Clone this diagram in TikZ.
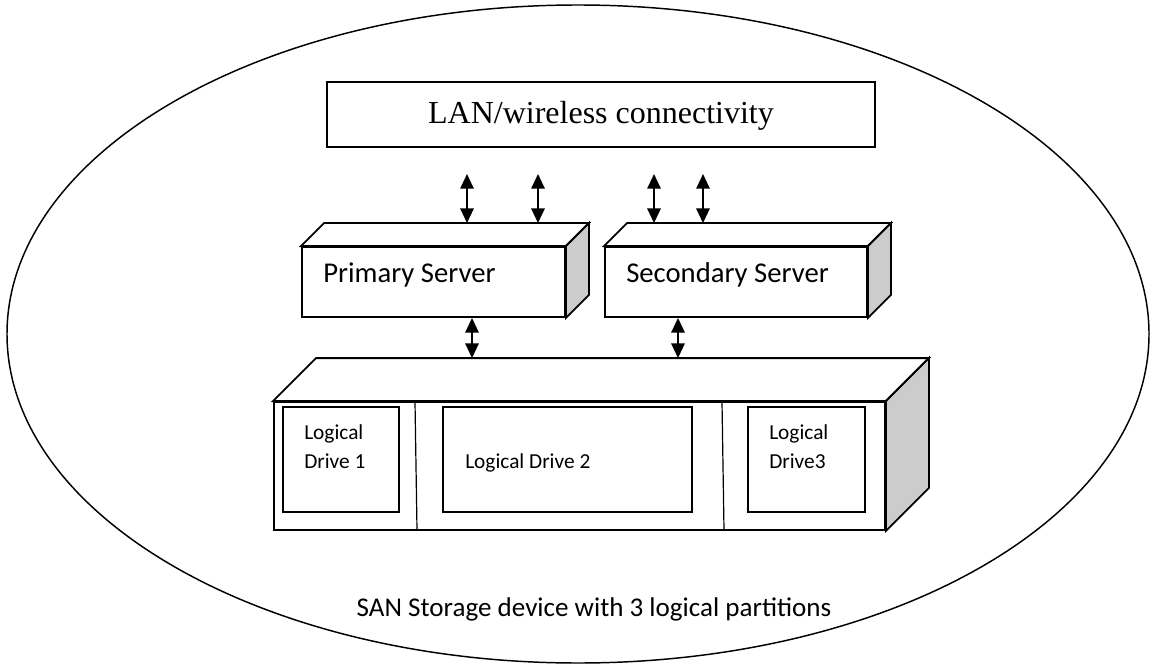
\documentclass[tikz,border=0pt]{standalone}
\usepackage{fontspec}
\setmainfont{Liberation Serif}
\setsansfont{Carlito}
\usepackage{tikz}
\usetikzlibrary{arrows.meta, positioning, fit, calc}
\definecolor{ladogris}{RGB}{204,204,204}
\tikzset{
  cara/.style={draw, line width=1.4pt, fill=white, inner sep=0pt},
  lado/.style={draw, line width=1.4pt, fill=ladogris},
  enlace/.style={{Triangle[width=10pt,length=11pt]}-{Triangle[width=10pt,length=11pt]}, line width=1.5pt},
  servtxt/.style={font=\sffamily\fontsize{21.5}{26}\selectfont, inner sep=0pt, anchor=base west},
  drvtxt/.style={font=\sffamily\fontsize{16}{21.75}\selectfont, inner sep=0pt, align=left, anchor=north west},
}
% caja 3D: nombre, esquina sup. izq., esquina inf. der., profundidad
\newcommand{\cubo}[4]{%
  \node[cara, fit={#2 #3}] (#1) {};
  \draw[cara] (#1.north west) -- ++(#4,-#4) -- ($(#1.north east)+(#4,-#4)$) -- (#1.north east) -- cycle;
  \draw[lado] (#1.north east) -- ++(#4,-#4) -- ($(#1.south east)+(#4,-#4)$) -- (#1.south east) -- cycle;
  \coordinate (#1-tapa) at ($(#1.north)+(#4,-#4)$);
}

\begin{document}
\begin{tikzpicture}[x=0.75pt, y=-0.75pt]
        \useasboundingbox (0,0) rectangle (1155,670);
        % Elipse exterior
        \draw[line width=1.1pt] (578,334) ellipse [x radius=571, y radius=329];
        % Caja de conectividad
        \node[draw, line width=1.4pt, inner sep=0pt, fit={(327,82) (875,147)}] (lan) {};
        \node[font=\fontsize{24}{28}\selectfont, inner sep=0pt, anchor=base] (lantxt)
              at ($(lan.center)+(0,9)$) {LAN/wireless connectivity};
        % Dispositivo de almacenamiento
        \cubo{san}{(274,402)}{(885,530)}{43}
        \node[cara, fit={(283,407) (399,512)}] (drv1) {};
        \node[cara, fit={(443,407) (692,512)}] (drv2) {};
        \node[cara, fit={(748,407) (865,512)}] (drv3) {};
        % Separadores
        \draw[line width=0.9pt] (415,402) -- (417,530);
        \draw[line width=0.9pt] (722,402) -- (724,530);
        \node[drvtxt] at (304,424) {Logical\\Drive 1};
        \node[drvtxt] at (465,453) {Logical Drive 2};
        \node[drvtxt] at (769,424) {Logical\\Drive3};
        % Servidores
        \cubo{prim}{(302,247)}{(565,317)}{23}
        \cubo{secu}{(605,247)}{(867,317)}{23}
        \node[servtxt] at (323,282) {Primary Server};
        \node[servtxt] at (626,282) {Secondary Server};
        % Flechas hacia la red
        \coordinate (a1) at (467,174);
        \coordinate (a2) at (538,174);
        \coordinate (a3) at (654,174);
        \coordinate (a4) at (703,174);
        \draw[enlace] (a1) -- (a1 |- prim-tapa);
        \draw[enlace] (a2) -- (a2 |- prim-tapa);
        \draw[enlace] (a3) -- (a3 |- secu-tapa);
        \draw[enlace] (a4) -- (a4 |- secu-tapa);
        % Flechas hacia el almacenamiento
        \coordinate (b1) at (472,0);
        \coordinate (b2) at (678,0);
        \draw[enlace] (b1 |- prim.south) -- (b1 |- san-tapa);
        \draw[enlace] (b2 |- secu.south) -- (b2 |- san-tapa);
        % Texto inferior
        \node[font=\sffamily\fontsize{20.3}{24}\selectfont, anchor=base] (titulo) at (594,616)
              {SAN Storage device with 3 logical partitions};
\end{tikzpicture}
\end{document}
